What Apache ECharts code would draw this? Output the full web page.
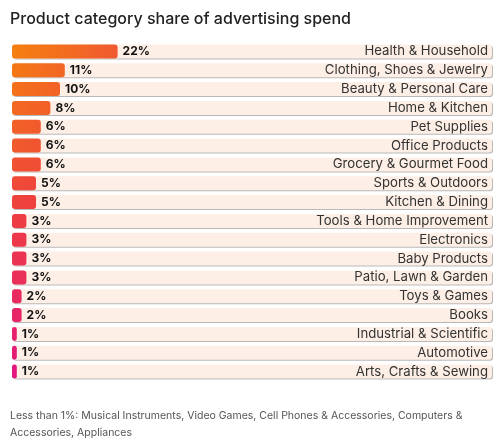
<!DOCTYPE html>
<html><head><meta charset="utf-8">
<script src="https://cdn.jsdelivr.net/npm/echarts@6/dist/echarts.min.js"></script>
<style>html,body{margin:0;padding:0;background:#fff}#c{width:504px;height:445px}</style>
</head><body><div id="c"></div>
<script>
const titleText = 'Product category share of advertising spend';
const footnoteText = 'Less than 1%: Musical Instruments, Video Games, Cell Phones & Accessories, Computers &\nAccessories, Appliances';
const categories = ['Health & Household','Clothing, Shoes & Jewelry','Beauty & Personal Care','Home & Kitchen','Pet Supplies','Office Products','Grocery & Gourmet Food','Sports & Outdoors','Kitchen & Dining','Tools & Home Improvement','Electronics','Baby Products','Patio, Lawn & Garden','Toys & Games','Books','Industrial & Scientific','Automotive','Arts, Crafts & Sewing'];
const shares = [22,11,10,8,6,6,6,5,5,3,3,3,3,2,2,1,1,1];
const axisMax = 100;

const FONT = 'Inter';
function hex(c){return [1,3,5].map(i=>parseInt(c.substr(i,2),16));}
function toHex(a){return '#'+a.map(x=>Math.round(x).toString(16).padStart(2,'0')).join('');}
function mix(a,b,t){const A=hex(a),B=hex(b);return toHex(A.map((v,i)=>v+(B[i]-v)*t));}
const topL='#f5800f', midL='#ef3f3f', botL='#e3177e';
const chart = echarts.init(document.getElementById('c'), null, {renderer:'canvas'});
const n = categories.length;
const data = shares.map((v,i)=>{
  const t=i/(n-1);
  const left = t<0.5 ? mix(topL,midL,t/0.5) : mix(midL,botL,(t-0.5)/0.5);
  const right = mix(left,'#ea2a5a',Math.min(1,v/22)*0.45);
  return {value:v,itemStyle:{color:new echarts.graphic.LinearGradient(0,0,1,0,[{offset:0,color:left},{offset:1,color:right}])}};
});
chart.setOption({
  animation:false,
  title:{text:titleText,left:5,top:6,textStyle:{fontFamily:FONT,fontSize:16,fontWeight:500,color:'#222'}},
  graphic:[{type:'text',left:10,top:407,style:{text:footnoteText,fontFamily:FONT,fontSize:10.5,lineHeight:17,fill:'#555'}}],
  grid:{left:12,right:12,top:42,height:339,containLabel:false},
  xAxis:{type:'value',min:0,max:axisMax,show:false},
  yAxis:{type:'category',data:categories,inverse:true,position:'right',z:10,
    axisLine:{show:false},axisTick:{show:false},
    axisLabel:{inside:true,margin:4,fontFamily:FONT,fontSize:13.2,color:'#333'}},
  series:[{type:'bar',data:data,barWidth:14,
    showBackground:true,
    backgroundStyle:{color:'#fdefe6',borderRadius:3,shadowColor:'rgba(0,0,0,0.28)',shadowOffsetX:1,shadowOffsetY:1,shadowBlur:0},
    itemStyle:{borderRadius:3},
    label:{show:true,position:'right',distance:5,formatter:'{c}%',fontFamily:FONT,fontSize:12,fontWeight:'bold',color:'#111'},
    z:3}]
});
</script></body></html>
